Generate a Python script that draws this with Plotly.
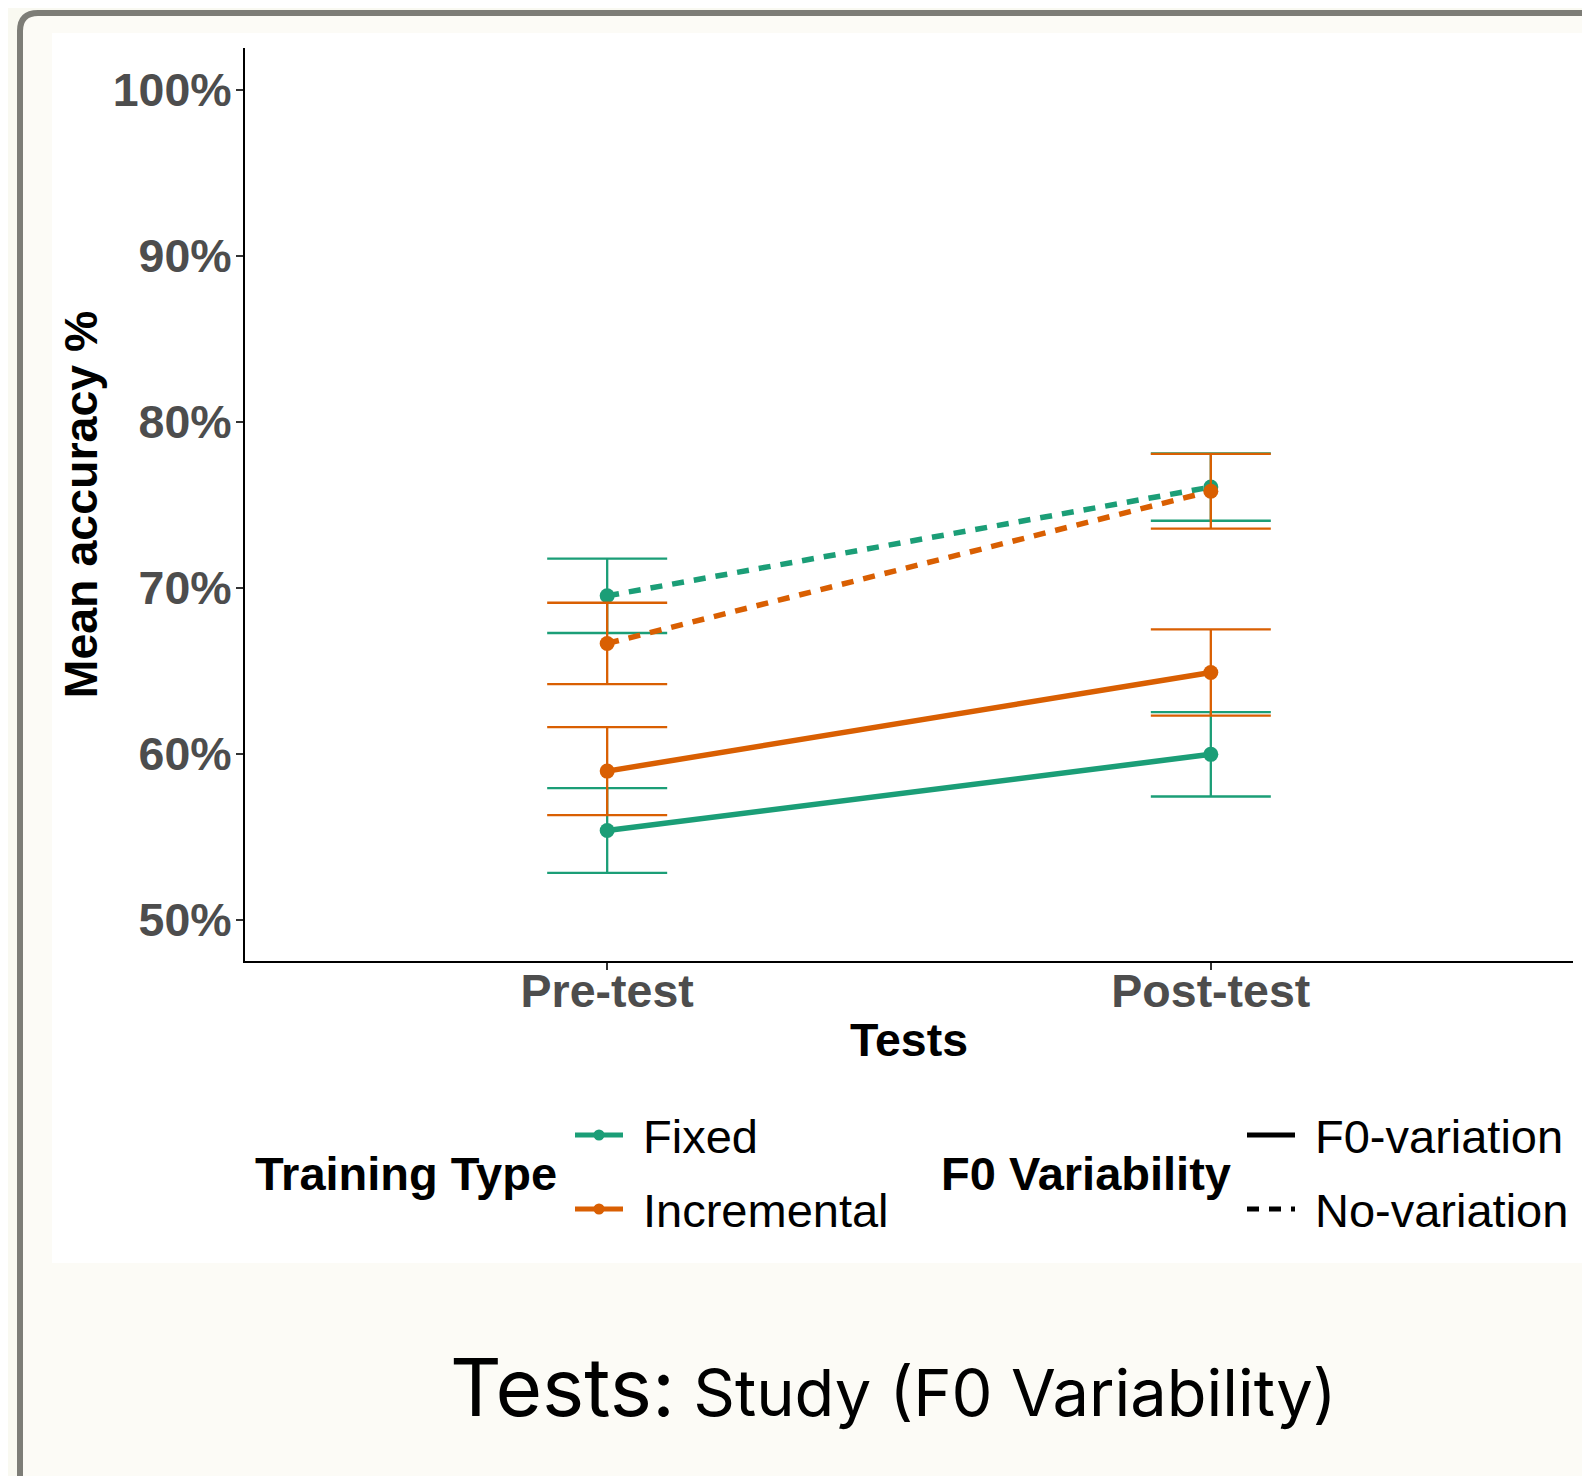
import plotly.graph_objects as go

# ---------------- data ----------------
tests = ["Pre-test", "Post-test"]
y_ticks = [50, 60, 70, 80, 90, 100]
y_tick_text = ["50%", "60%", "70%", "80%", "90%", "100%"]

fixed_f0 = [55.36, 59.95]
fixed_f0_err = [2.55, 2.54]
fixed_nov = [69.50, 76.05]
fixed_nov_err = [2.24, 2.03]
inc_f0 = [58.94, 64.88]
inc_f0_err = [2.65, 2.60]
inc_nov = [66.63, 75.80]
inc_nov_err = [2.45, 2.25]

training_types = ["Fixed", "Incremental"]
variability = ["F0-variation", "No-variation"]
colors = {"Fixed": "#1b9e77", "Incremental": "#d95f02"}
dashes = {"F0-variation": "solid", "No-variation": "12px,10px"}

# ---------------- layout geometry ----------------
# The page body has an 8px margin, so figure coords = screen coords - 8.
OFF = 8
W, H = 1590, 1476
PL_S, PR_S, PT_S, PB_S = 245, 1573, 48, 961   # plot area in screen px
ML = PL_S - OFF
MT = PT_S - OFF
MR = W - (PR_S - OFF)
MB = H - (PB_S - OFF)
PW = W - ML - MR
PH = H - MT - MB


def px(x):
    """screen x pixel -> paper x"""
    return (x - OFF - ML) / PW


def py(y):
    """screen y pixel -> paper y"""
    return 1 - (y - OFF - MT) / PH


fig = go.Figure()

series = [
    ("Fixed", "F0-variation", fixed_f0, fixed_f0_err),
    ("Fixed", "No-variation", fixed_nov, fixed_nov_err),
    ("Incremental", "F0-variation", inc_f0, inc_f0_err),
    ("Incremental", "No-variation", inc_nov, inc_nov_err),
]
for tt, fv, vals, errs in series:
    c = colors[tt]
    fig.add_trace(go.Scatter(
        x=tests, y=vals, mode="lines+markers",
        name=f"{tt} / {fv}",
        line=dict(color=c, width=5.5, dash=dashes[fv]),
        marker=dict(color=c, size=15),
        error_y=dict(type="data", array=errs, visible=True,
                     color=c, thickness=2.3, width=60),
        showlegend=False,
    ))

FONT = "Liberation Sans, Arial, sans-serif"

shapes = []
# outer frame (rounded rectangle, cut off at right/bottom)
r = 18
fx, fy = 20, 13
shapes.append(dict(
    type="path", xref="paper", yref="paper", layer="below",
    path=(f"M {px(fx)},{py(1700)} L {px(fx)},{py(fy + r)} "
          f"Q {px(fx)},{py(fy)} {px(fx + r)},{py(fy)} "
          f"L {px(1800)},{py(fy)} L {px(1800)},{py(1700)} Z"),
    line=dict(color="#7d7d77", width=6), fillcolor="#fcfbf6",
))
# white chart image area
shapes.append(dict(
    type="rect", xref="paper", yref="paper", layer="below",
    x0=px(52), x1=px(1588), y0=py(1263), y1=py(33),
    line=dict(width=0), fillcolor="#ffffff",
))

annotations = []

# ---- legend (drawn manually, ggplot style) ----
key_x0, key_x1 = 575, 623
row_y = [1135, 1209]
LEG_SIZE = 47
for i, tt in enumerate(training_types):
    c = colors[tt]
    shapes.append(dict(type="line", xref="paper", yref="paper",
                       x0=px(key_x0), x1=px(key_x1), y0=py(row_y[i]), y1=py(row_y[i]),
                       line=dict(color=c, width=5)))
    cx = (key_x0 + key_x1) / 2
    shapes.append(dict(type="circle", xref="paper", yref="paper",
                       xsizemode="pixel", ysizemode="pixel",
                       xanchor=px(cx), yanchor=py(row_y[i]),
                       x0=-5.5, x1=5.5, y0=-5.5, y1=5.5,
                       line=dict(width=0), fillcolor=c))
    annotations.append(dict(text=tt, xref="paper", yref="paper",
                            x=px(641), y=py(row_y[i] + 1), xanchor="left", yanchor="middle",
                            showarrow=False, font=dict(family=FONT, size=LEG_SIZE, color="#000000")))

fkey_x0, fkey_x1 = 1247, 1295
for i, fv in enumerate(variability):
    shapes.append(dict(type="line", xref="paper", yref="paper",
                       x0=px(fkey_x0), x1=px(fkey_x1), y0=py(row_y[i]), y1=py(row_y[i]),
                       line=dict(color="#000000", width=5, dash=dashes[fv])))
    annotations.append(dict(text=fv, xref="paper", yref="paper",
                            x=px(1313), y=py(row_y[i] + 1), xanchor="left", yanchor="middle",
                            showarrow=False, font=dict(family=FONT, size=LEG_SIZE, color="#000000")))

annotations.append(dict(text="Training Type", xref="paper", yref="paper",
                        x=px(253), y=py(1173), xanchor="left", yanchor="middle",
                        showarrow=False,
                        font=dict(family=FONT, size=LEG_SIZE, color="#000000", weight="bold")))
annotations.append(dict(text="F0 Variability", xref="paper", yref="paper",
                        x=px(939), y=py(1173), xanchor="left", yanchor="middle",
                        showarrow=False,
                        font=dict(family=FONT, size=LEG_SIZE, color="#000000", weight="bold")))

# ---- caption below chart ----
CAP_FONT = "Inter, Roboto, sans-serif"
annotations.append(dict(
    text="Tests:<span style='font-size:65px'> Study (F0 Variability)</span>",
    xref="paper", yref="paper",
    x=px(893), y=py(1386), xanchor="center", yanchor="middle",
    showarrow=False, font=dict(family=CAP_FONT, size=80, color="#000000")))

TICK_SIZE = 46.5
fig.update_layout(
    width=W, height=H,
    margin=dict(l=ML, r=MR, t=MT, b=MB, autoexpand=False),
    paper_bgcolor="#f9f9f1",
    plot_bgcolor="rgba(0,0,0,0)",
    shapes=shapes,
    annotations=annotations,
    showlegend=False,
    xaxis=dict(
        type="category", categoryorder="array", categoryarray=tests,
        range=[-0.6, 1.6], showgrid=False, zeroline=False,
        showline=True, linecolor="#000000", linewidth=2,
        ticks="outside", ticklen=7, tickwidth=2, tickcolor="#333333",
        ticklabelstandoff=-19,
        tickfont=dict(family=FONT, size=TICK_SIZE, color="#4d4d4d", weight="bold"),
        title=dict(text="Tests", standoff=8,
                   font=dict(family=FONT, size=46.5, color="#000000", weight="bold")),
        automargin=False,
    ),
    yaxis=dict(
        range=[47.5, 102.5], showgrid=False, zeroline=False,
        tickvals=y_ticks, ticktext=y_tick_text,
        showline=True, linecolor="#000000", linewidth=2,
        ticks="outside", ticklen=7, tickwidth=2, tickcolor="#333333",
        ticklabelstandoff=-5,
        tickfont=dict(family=FONT, size=TICK_SIZE, color="#4d4d4d", weight="bold"),
        title=dict(text="Mean accuracy %", standoff=0,
                   font=dict(family=FONT, size=46.5, color="#000000", weight="bold")),
        automargin=False,
    ),
)

fig.write_html("out.html")
